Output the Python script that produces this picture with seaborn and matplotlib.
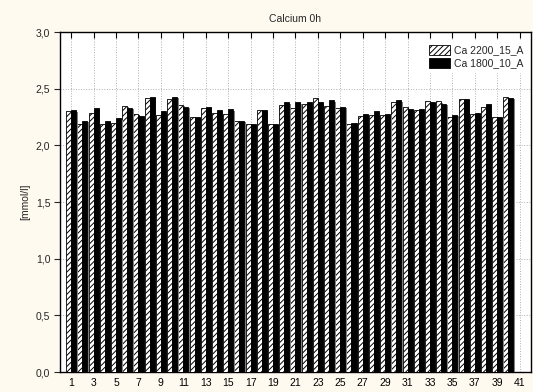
import numpy as np
import pandas as pd
import matplotlib
matplotlib.use("Agg")
import matplotlib.pyplot as plt
import matplotlib.patheffects as pe
import seaborn as sns

categories = list(range(1, 41))
ca_2200_15_a = [2.30, 2.19, 2.29, 2.19, 2.20, 2.35, 2.28, 2.42, 2.27, 2.41,
                2.36, 2.25, 2.33, 2.29, 2.28, 2.22, 2.19, 2.31, 2.19, 2.36,
                2.33, 2.37, 2.42, 2.35, 2.33, 2.19, 2.26, 2.27, 2.27, 2.38,
                2.34, 2.31, 2.39, 2.39, 2.25, 2.41, 2.28, 2.34, 2.25, 2.43]
ca_1800_10_a = [2.31, 2.22, 2.33, 2.22, 2.24, 2.33, 2.26, 2.43, 2.30, 2.43,
                2.34, 2.25, 2.34, 2.31, 2.32, 2.22, 2.19, 2.31, 2.19, 2.38,
                2.38, 2.38, 2.38, 2.40, 2.34, 2.20, 2.28, 2.30, 2.28, 2.40,
                2.32, 2.32, 2.38, 2.37, 2.27, 2.41, 2.29, 2.37, 2.25, 2.42]
series_names = ["Ca 2200_15_A", "Ca 1800_10_A"]
x_ticks = list(range(1, 42, 2))
y_ticks = [0.0, 0.5, 1.0, 1.5, 2.0, 2.5, 3.0]
y_tick_labels = ["0,0", "0,5", "1,0", "1,5", "2,0", "2,5", "3,0"]
title = "Calcium 0h"
y_label = "[mmol/l]"

df = pd.DataFrame({
    "sample": categories * 2,
    "value": ca_2200_15_a + ca_1800_10_a,
    "series": [series_names[0]] * len(categories) + [series_names[1]] * len(categories),
})

sns.set_style("white")
plt.rcParams["font.family"] = ["Liberation Sans", "DejaVu Sans"]
plt.rcParams["hatch.linewidth"] = 0.7

fig = plt.figure(figsize=(5.33, 3.92), dpi=100, facecolor="#FFFAF0")
ax = fig.add_axes([0.1126, 0.051, 0.8834, 0.867])
ax.set_facecolor("white")

sns.barplot(data=df, x="sample", y="value", hue="series", hue_order=series_names,
            palette=["white", "black"], native_scale=True, width=0.9, dodge=True,
            saturation=1, errorbar=None, legend=False, edgecolor="black",
            linewidth=0.6, ax=ax)

shadow = [pe.SimplePatchShadow(offset=(1.0, -1.0), shadow_rgbFace="#7f7f7f", alpha=1.0), pe.Normal()]
for i, cont in enumerate(ax.containers):
    for bar in cont:
        if i == 0:
            bar.set_hatch("//////")
            bar.set_facecolor("white")
        bar.set_edgecolor("black")
        bar.set_path_effects(shadow)
        bar.set_zorder(3)

ax.set_xlim(0, 42)
ax.set_ylim(0, 3.0)
ax.set_xticks(x_ticks)
ax.set_xticklabels([str(t) for t in x_ticks], fontsize=7.5)
ax.set_yticks(y_ticks)
ax.set_yticklabels(y_tick_labels, fontsize=7.5)
ax.set_xlabel("")
ax.set_ylabel(y_label, fontsize=7.5, labelpad=4)
ax.set_title(title, fontsize=7.5, pad=7)

ax.set_axisbelow(True)
ax.grid(True, which="major", axis="both", linestyle=":", color="#b0b0b0", linewidth=0.7)
ax.tick_params(axis="x", bottom=False, top=True, direction="in", length=4, width=0.8,
               labelbottom=True, pad=4, colors="black")
ax.tick_params(axis="y", left=True, direction="out", length=4, width=0.8, pad=3)
for s in ax.spines.values():
    s.set_visible(True)
    s.set_color("black")
    s.set_linewidth(1.0)

handles = [ax.containers[0][0], ax.containers[1][0]]
leg = ax.legend(handles, series_names, loc="upper right", bbox_to_anchor=(1.0, 0.985),
                fontsize=7.5, frameon=True, framealpha=1.0, edgecolor="white",
                facecolor="white", handlelength=2.0, handleheight=1.1,
                handletextpad=0.4, borderaxespad=0.3, labelspacing=0.25, fancybox=False)
for h in leg.legend_handles:
    h.set_path_effects([])

fig.savefig("out.png", dpi=100, facecolor=fig.get_facecolor())
